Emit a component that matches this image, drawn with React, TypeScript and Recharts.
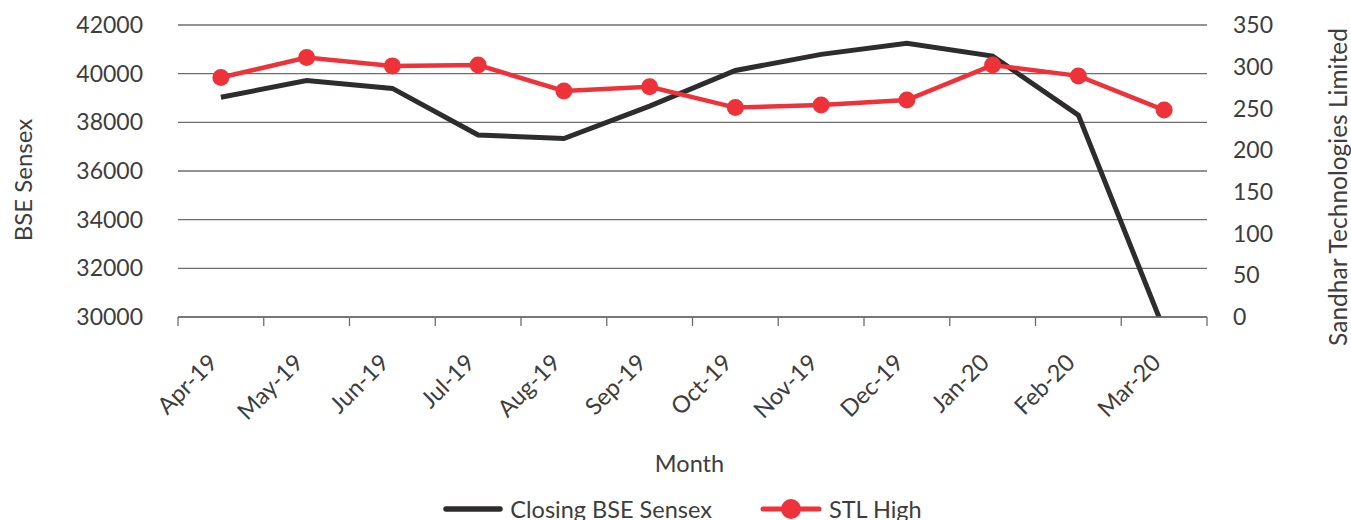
import React from 'react';
import {
    LineChart,
    Line,
    XAxis,
    YAxis,
    CartesianGrid,
    Legend,
    Label,
} from 'recharts';

const months = [
    'Apr-19', 'May-19', 'Jun-19', 'Jul-19', 'Aug-19', 'Sep-19',
    'Oct-19', 'Nov-19', 'Dec-19', 'Jan-20', 'Feb-20', 'Mar-20',
];

const sensexClose = [
    39032, 39714, 39395, 37481, 37333, 38667,
    40129, 40794, 41254, 40723, 38297, 29468,
];

const stlHigh = [
    287, 311, 301, 302, 271, 276,
    251, 254, 260, 302, 289, 248,
];

const leftTicks = [30000, 32000, 34000, 36000, 38000, 40000, 42000];
const rightTicks = [0, 50, 100, 150, 200, 250, 300, 350];

const FONT = 'Lato, sans-serif';
const TEXT = '#3d3d3d';
const BLACK = '#2f2c2d';
const RED = '#ee3239';
const GRID = '#6e6e6e';

const PLOT_WIDTH = 1029;

const chartData = months.map((month, i) => ({
    month,
    sensex: sensexClose[i],
    stl: stlHigh[i],
}));

function MonthTick(props: any) {
    const { x, y, payload, index } = props;
    const band = PLOT_WIDTH / months.length;
    const tx = x - 2;
    const ty = y + 47;
    return (
        <g>
            <line x1={x - band / 2} y1={y} x2={x - band / 2} y2={y + 9} stroke={GRID} strokeWidth={1.3} />
            {index === months.length - 1 && (
                <line x1={x + band / 2} y1={y} x2={x + band / 2} y2={y + 9} stroke={GRID} strokeWidth={1.3} />
            )}
            <text
                x={tx}
                y={ty}
                textAnchor="end"
                transform={`rotate(-45, ${tx}, ${ty})`}
                fill={TEXT}
                fontFamily={FONT}
                fontSize={23.5}
            >
                {payload.value}
            </text>
        </g>
    );
}

function LegendContent() {
    return (
        <div
            style={{
                height: 30,
                display: 'flex',
                justifyContent: 'center',
                alignItems: 'center',
                paddingLeft: 14,
                fontFamily: FONT,
                fontSize: 23.5,
                color: TEXT,
            }}
        >
            <svg width={60} height={22}>
                <line x1={3} y1={11} x2={57} y2={11} stroke={BLACK} strokeWidth={5.5} strokeLinecap="round" />
            </svg>
            <span style={{ marginLeft: 7 }}>Closing BSE Sensex</span>
            <svg width={62} height={22} style={{ marginLeft: 48 }}>
                <line x1={3} y1={11} x2={59} y2={11} stroke={RED} strokeWidth={5} strokeLinecap="round" />
                <circle cx={31} cy={11} r={10} fill={RED} />
            </svg>
            <span style={{ marginLeft: 7 }}>STL High</span>
        </div>
    );
}

export default function App() {
    return (
        <div
            style={{
                position: 'absolute',
                left: 0,
                top: 0,
                width: 1351,
                height: 520,
                background: '#fff',
            }}
        >
            <LineChart
                width={1351}
                height={520}
                data={chartData}
                margin={{ top: 25, right: 0, left: 0, bottom: 0 }}
            >
                <CartesianGrid
                    yAxisId="left"
                    vertical={false}
                    stroke={GRID}
                    strokeWidth={1.3}
                />

                <XAxis
                    dataKey="month"
                    scale="band"
                    height={173}
                    tickSize={0}
                    tickMargin={0}
                    tickLine={false}
                    interval={0}
                    axisLine={{ stroke: GRID, strokeWidth: 1.3 }}
                    tick={<MonthTick />}
                >
                    <Label
                        content={({ viewBox }: any) => (
                            <text
                                x={viewBox.x + viewBox.width / 2 - 3}
                                y={viewBox.y + 155}
                                textAnchor="middle"
                                fill={TEXT}
                                fontFamily={FONT}
                                fontSize={23.5}
                            >
                                Month
                            </text>
                        )}
                    />
                </XAxis>

                {/* BSE Sensex axis */}
                <YAxis
                    yAxisId="left"
                    width={178}
                    domain={[30000, 42000]}
                    ticks={leftTicks}
                    allowDataOverflow
                    axisLine={false}
                    tickLine={false}
                    tickSize={0}
                    tickMargin={35}
                    tick={{ fill: TEXT, fontFamily: FONT, fontSize: 23 }}
                >
                    <Label
                        content={({ viewBox }: any) => {
                            const lx = viewBox.x + 22;
                            const ly = viewBox.y + viewBox.height / 2 + 9;
                            return (
                                <text
                                    x={lx}
                                    y={ly}
                                    textAnchor="middle"
                                    dominantBaseline="central"
                                    transform={`rotate(-90, ${lx}, ${ly})`}
                                    fill={TEXT}
                                    fontFamily={FONT}
                                    fontSize={24}
                                >
                                    BSE Sensex
                                </text>
                            );
                        }}
                    />
                </YAxis>

                {/* STL axis */}
                <YAxis
                    yAxisId="right"
                    orientation="right"
                    width={144}
                    domain={[0, 350]}
                    ticks={rightTicks}
                    axisLine={false}
                    tickLine={false}
                    tickSize={0}
                    tickMargin={26}
                    tick={{ fill: TEXT, fontFamily: FONT, fontSize: 23 }}
                >
                    <Label
                        content={({ viewBox }: any) => {
                            const lx = viewBox.x + 130;
                            const ly = viewBox.y + viewBox.height / 2 + 16;
                            return (
                                <text
                                    x={lx}
                                    y={ly}
                                    textAnchor="middle"
                                    dominantBaseline="central"
                                    transform={`rotate(-90, ${lx}, ${ly})`}
                                    fill={TEXT}
                                    fontFamily={FONT}
                                    fontSize={24.5}
                                >
                                    Sandhar Technologies Limited
                                </text>
                            );
                        }}
                    />
                </YAxis>

                <Legend
                    verticalAlign="bottom"
                    content={<LegendContent />}
                    wrapperStyle={{ left: 0, width: 1351, bottom: -4 }}
                />

                <Line
                    yAxisId="left"
                    type="linear"
                    dataKey="sensex"
                    name="Closing BSE Sensex"
                    stroke={BLACK}
                    strokeWidth={5}
                    dot={false}
                    isAnimationActive={false}
                />

                <Line
                    yAxisId="right"
                    type="linear"
                    dataKey="stl"
                    name="STL High"
                    stroke={RED}
                    strokeWidth={4.5}
                    dot={{ r: 8.5, fill: RED, stroke: RED, strokeWidth: 0 }}
                    isAnimationActive={false}
                />
            </LineChart>
        </div>
    );
}
